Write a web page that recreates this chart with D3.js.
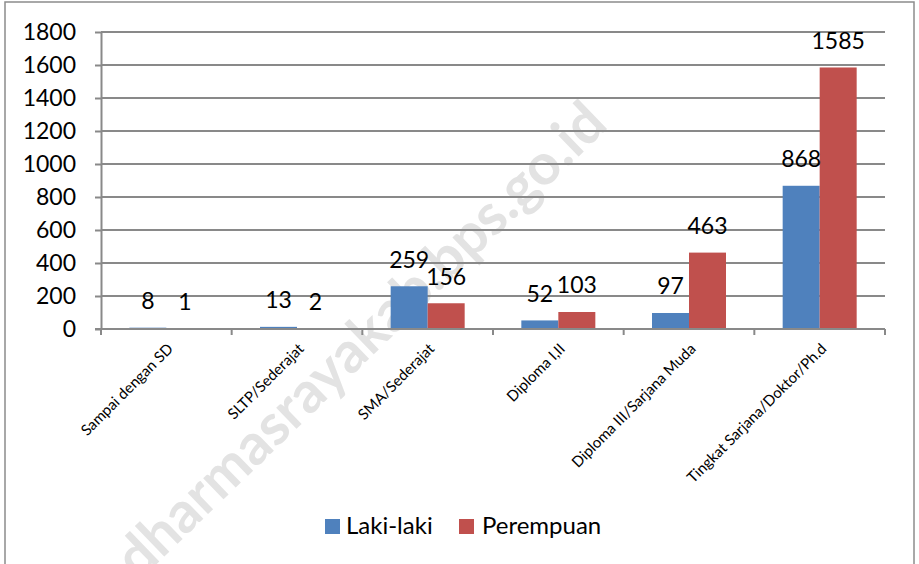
<!DOCTYPE html>
<html>
<head>
<meta charset="utf-8">
<script src="https://cdn.jsdelivr.net/npm/d3@7"></script>
<style>
  html, body { margin: 0; padding: 0; background: #fff; }
  svg { display: block; }
  text { font-family: Lato, "Open Sans", sans-serif; }
</style>
</head>
<body>
<svg id="chart" width="919" height="564"></svg>
<script>
// ---- data ----
const categories = [
  "Sampai dengan SD",
  "SLTP/Sederajat",
  "SMA/Sederajat",
  "Diploma I,II",
  "Diploma III/Sarjana Muda",
  "Tingkat Sarjana/Doktor/Ph.d"
];
const seriesNames = ["Laki-laki", "Perempuan"];
const lakiLaki = [8, 13, 259, 52, 97, 868];
const perempuan = [1, 2, 156, 103, 463, 1585];
const yTicks = [0, 200, 400, 600, 800, 1000, 1200, 1400, 1600, 1800];
const watermarkText = "dharmasrayakab.bps.go.id";

// ---- styles ----
const colors = { "Laki-laki": "#4F81BD", "Perempuan": "#C0504D" };
const gridColor = "#898989";

const svg = d3.select("#chart");
const W = 919, H = 564;
const plot = { left: 101, right: 885, top: 32, bottom: 329 };

svg.append("rect").attr("width", W).attr("height", H).attr("fill", "#fff");

// watermark (behind everything)
svg.append("text")
  .attr("transform", "translate(374,354) rotate(-44)")
  .attr("text-anchor", "middle")
  .attr("font-weight", "bold")
  .attr("font-size", 57)
  .attr("fill", "#e3e3e3")
  .text(watermarkText);

// frame
svg.append("rect")
  .attr("x", 5).attr("y", 2).attr("width", 909).attr("height", 620)
  .attr("fill", "none").attr("stroke", "#8c8c8c").attr("stroke-width", 1.5);

const y = d3.scaleLinear().domain([0, 1800]).range([plot.bottom, plot.top]);
const x = d3.scaleBand().domain(categories).range([plot.left, plot.right]).padding(0);
const barW = 37;
const po = (x.bandwidth() / barW - 2) / 2;
const x1 = d3.scaleBand().domain(seriesNames).range([0, x.bandwidth()]).paddingInner(0).paddingOuter(po);

// gridlines
svg.append("g")
  .selectAll("line")
  .data(yTicks.filter(d => d > 0))
  .join("line")
  .attr("x1", plot.left).attr("x2", plot.right)
  .attr("y1", d => y(d)).attr("y2", d => y(d))
  .attr("stroke", gridColor).attr("stroke-width", 2);

// y axis
const yAxis = svg.append("g")
  .attr("transform", `translate(${plot.left},0)`)
  .call(d3.axisLeft(y).tickValues(yTicks).tickFormat(d3.format("d"))
    .tickSize(6).tickPadding(19).tickSizeOuter(0));
yAxis.select(".domain").attr("stroke", gridColor).attr("stroke-width", 2);
yAxis.selectAll(".tick line").attr("stroke", gridColor).attr("stroke-width", 2);
yAxis.selectAll(".tick text")
  .attr("font-size", 23).attr("fill", "#000")
  .attr("font-family", "Lato, sans-serif");

// bars
const rows = categories.map((c, i) => ({ cat: c, vals: [
  { s: "Laki-laki", v: lakiLaki[i] },
  { s: "Perempuan", v: perempuan[i] }
]}));

const groups = svg.append("g").selectAll("g")
  .data(rows).join("g")
  .attr("transform", d => `translate(${x(d.cat)},0)`);

groups.selectAll("rect")
  .data(d => d.vals).join("rect")
  .attr("x", d => x1(d.s))
  .attr("width", x1.bandwidth())
  .attr("y", d => y(d.v))
  .attr("height", d => y(0) - y(d.v))
  .attr("fill", d => colors[d.s]);

groups.selectAll("text")
  .data(d => d.vals).join("text")
  .attr("x", d => x1(d.s) + x1.bandwidth() / 2)
  .attr("y", d => y(d.v) - 27)
  .attr("dy", "0.36em")
  .attr("text-anchor", "middle")
  .attr("font-size", 23)
  .attr("fill", "#000")
  .text(d => d.v);

// x axis
const xAxisG = svg.append("g");
xAxisG.append("line")
  .attr("x1", plot.left - 6).attr("x2", plot.right)
  .attr("y1", plot.bottom).attr("y2", plot.bottom)
  .attr("stroke", gridColor).attr("stroke-width", 2);
const bounds = categories.map(c => x(c)).concat([plot.right]);
xAxisG.selectAll("line.t")
  .data(bounds).join("line").attr("class", "t")
  .attr("x1", d => d).attr("x2", d => d)
  .attr("y1", plot.bottom).attr("y2", plot.bottom + 6)
  .attr("stroke", gridColor).attr("stroke-width", 2);
xAxisG.selectAll("text")
  .data(categories).join("text")
  .attr("transform", d => `translate(${x(d) + x.bandwidth() / 2 + 4},${plot.bottom + 17}) rotate(-45)`)
  .attr("text-anchor", "end")
  .attr("dy", "0.35em")
  .attr("font-size", 15)
  .attr("fill", "#000")
  .text(d => d);

// legend
const legend = svg.append("g");
const legendItems = [
  { s: "Laki-laki", rx: 325, tx: 346 },
  { s: "Perempuan", rx: 459, tx: 482 }
];
legend.selectAll("rect")
  .data(legendItems).join("rect")
  .attr("x", d => d.rx).attr("y", 519)
  .attr("width", 15).attr("height", 15)
  .attr("fill", d => colors[d.s]);
legend.selectAll("text")
  .data(legendItems).join("text")
  .attr("x", d => d.tx).attr("y", 534)
  .attr("font-size", 24)
  .attr("fill", "#000")
  .text(d => d.s);
</script>
</body>
</html>
